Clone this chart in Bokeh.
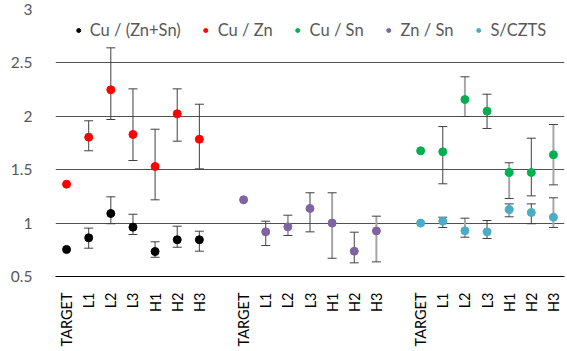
from bokeh.plotting import figure
from bokeh.models import (ColumnDataSource, Whisker, TeeHead, FixedTicker, Range1d,
                          Legend, LegendItem)
from bokeh.embed import file_html
from bokeh.resources import INLINE

samples = ["TARGET", "L1", "L2", "L3", "H1", "H2", "H3"]

# Group 1: Cu/(Zn+Sn) and Cu/Zn
cu_znsn = [0.753, 0.862, 1.090, 0.962, 0.734, 0.844, 0.844]
cu_znsn_hi = [None, 0.953, 1.246, 1.083, 0.825, 0.971, 0.924]
cu_znsn_lo = [None, 0.765, 0.994, 0.893, 0.680, 0.774, 0.737]

cu_zn = [1.364, 1.804, 2.248, 1.830, 1.530, 2.023, 1.785]
cu_zn_hi = [None, 1.958, 2.641, 2.257, 1.879, 2.257, 2.113]
cu_zn_lo = [None, 1.677, 1.970, 1.586, 1.218, 1.767, 1.508]

# Group 2: Zn/Sn
zn_sn = [1.218, 0.918, 0.965, 1.137, 1.000, 0.737, 0.927]
zn_sn_hi = [None, 1.018, 1.074, 1.284, 1.284, 0.915, 1.065]
zn_sn_lo = [None, 0.790, 0.884, 0.918, 0.671, 0.628, 0.637]

# Group 3: Cu/Sn and S/CZTS
cu_sn = [1.677, 1.668, 2.157, 2.048, 1.474, 1.474, 1.640]
cu_sn_hi = [None, 1.904, 2.370, 2.207, 1.565, 1.795, 1.923]
cu_sn_lo = [None, 1.368, 1.998, 1.886, 1.230, 1.255, 1.358]

s_czts = [1.000, 1.018, 0.928, 0.918, 1.127, 1.099, 1.055]
s_czts_hi = [None, 1.055, 1.046, 1.024, 1.180, 1.180, 1.237]
s_czts_lo = [None, 0.959, 0.868, 0.856, 1.059, 0.994, 0.959]

y_ticks = [0.5, 1, 1.5, 2, 2.5, 3]

series = [
    ("Cu / (Zn+Sn)", 0, cu_znsn, cu_znsn_hi, cu_znsn_lo, "#000000", False),
    ("Cu / Zn", 0, cu_zn, cu_zn_hi, cu_zn_lo, "#FF0000", False),
    ("Cu / Sn", 2, cu_sn, cu_sn_hi, cu_sn_lo, "#00B050", True),
    ("Zn / Sn", 1, zn_sn, zn_sn_hi, zn_sn_lo, "#8064A2", True),
    ("S/CZTS", 2, s_czts, s_czts_hi, s_czts_lo, "#4BACC6", True),
]

GAP = len(samples) + 1
FONT = "Lato"

p = figure(width=567, height=351, output_backend="svg", toolbar_location=None,
           x_range=Range1d(0, 3 * GAP - 1), y_range=Range1d(0.5, 3),
           min_border_left=55, min_border_right=3, min_border_top=9,
           min_border_bottom=75)
p.outline_line_color = None
p.background_fill_color = "white"

gray_idx = {2, 4, 6}
items = []
for name, grp, vals, hi, lo, col, alt in series:
    xs = [grp * GAP + i + 0.5 for i in range(len(samples))]
    for mode in ("dark", "gray"):
        bx, bu, bl = [], [], []
        for i in range(len(samples)):
            if hi[i] is None:
                continue
            is_gray = alt and i in gray_idx
            if (mode == "gray") != is_gray:
                continue
            bx.append(xs[i]); bu.append(hi[i]); bl.append(lo[i])
        if not bx:
            continue
        src = ColumnDataSource(dict(x=bx, upper=bu, lower=bl))
        w = Whisker(base="x", upper="upper", lower="lower", source=src,
                    dimension="height",
                    line_color="#404040" if mode == "dark" else "#A6A6A6",
                    line_width=1 if mode == "dark" else 2,
                    upper_head=TeeHead(size=9, line_color="#404040", line_width=1),
                    lower_head=TeeHead(size=9, line_color="#404040", line_width=1))
        p.add_layout(w)
    r = p.scatter(xs, vals, size=8, color=col, line_color=col)
    items.append(LegendItem(label=name, renderers=[r]))

legend = Legend(items=items, orientation="horizontal", location="top_center",
                label_text_font=FONT, label_text_font_size="16.5px",
                label_text_color="#595959", background_fill_alpha=0,
                border_line_color=None, glyph_width=10, label_standoff=7,
                spacing=20, padding=0, margin=11)
p.add_layout(legend)

ticks = []
overrides = {}
for g in range(3):
    for i, s in enumerate(samples):
        t = g * GAP + i + 0.5
        ticks.append(t)
        overrides[t] = s
p.xaxis.ticker = FixedTicker(ticks=ticks)
p.xaxis.major_label_overrides = overrides
p.xaxis.major_label_orientation = 3.14159265 / 2
p.xaxis.major_label_text_font = FONT
p.xaxis.major_label_text_font_size = "14.5px"
p.xaxis.major_label_text_color = "#000000"
p.xaxis.major_tick_line_color = None
p.xaxis.minor_tick_line_color = None
p.xaxis.axis_line_color = "#000000"
p.xaxis.major_label_standoff = 10
p.xgrid.grid_line_color = None

p.yaxis.ticker = FixedTicker(ticks=y_ticks)
p.yaxis.major_label_text_font = FONT
p.yaxis.major_label_text_font_size = "15.5px"
p.yaxis.major_label_text_color = "#595959"
p.yaxis.axis_line_color = None
p.yaxis.major_tick_line_color = None
p.yaxis.minor_tick_line_color = None
p.yaxis.major_label_standoff = 17
p.ygrid.grid_line_color = "#505050"
p.ygrid.grid_line_width = 1

open("out.html", "w").write(file_html(p, INLINE))
